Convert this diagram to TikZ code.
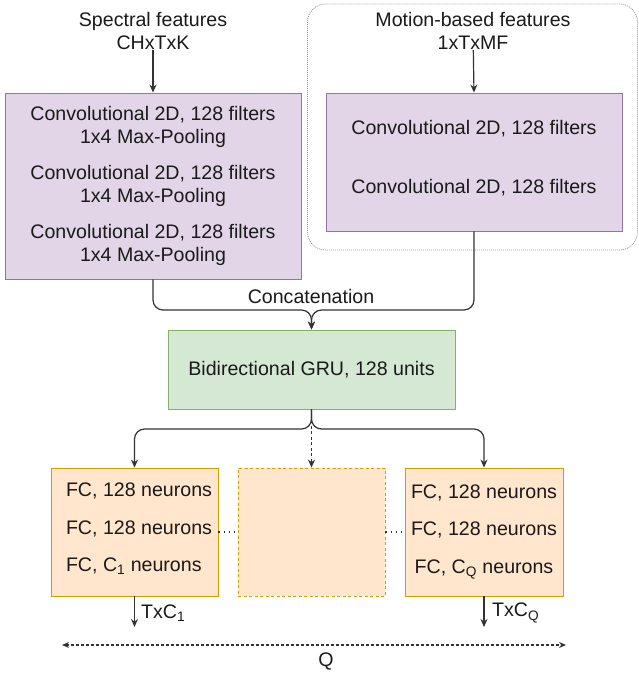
\documentclass[tikz,border=0pt]{standalone}
\usepackage{fontspec}
\setmainfont{Liberation Sans}
\usetikzlibrary{arrows.meta}

\definecolor{convfill}{HTML}{E1D5E7}
\definecolor{convline}{HTML}{9673A6}
\definecolor{grufill}{HTML}{D5E8D4}
\definecolor{gruline}{HTML}{82B366}
\definecolor{fcfill}{HTML}{FFE6CC}
\definecolor{fcline}{HTML}{D79B00}
\definecolor{ink}{HTML}{1A1A1A}
\definecolor{wire}{HTML}{333333}

\tikzset{
  txt/.style={inner sep=0pt, align=center, text=ink},
  convbox/.style={draw=convline, fill=convfill, line width=0.9pt, inner sep=0pt,
    minimum width=296pt, align=center, text=ink},
  grubox/.style={draw=gruline, fill=grufill, line width=0.9pt, inner sep=0pt,
    minimum width=287pt, minimum height=79pt, text=ink},
  fcbox/.style={draw=fcline, fill=fcfill, line width=0.9pt, inner sep=0pt,
    minimum height=128pt, text=ink},
  groupbox/.style={draw=gray!80, dash pattern=on 1pt off 1pt, line width=0.8pt,
    rounded corners=18pt, inner sep=0pt},
  conn/.style={draw=wire, line width=1.2pt, rounded corners=10pt,
    -{Stealth[length=8pt,width=7pt]}},
  dotlink/.style={draw=wire, line width=1.1pt, dash pattern=on 1.2pt off 4pt},
  span/.style={draw=wire, line width=1.1pt, dash pattern=on 2.5pt off 2.5pt,
    {Stealth[length=7pt,width=6pt]}-{Stealth[length=7pt,width=6pt]}}
}

\begin{document}
\begin{tikzpicture}[x=1pt, y=-1pt, font=\fontsize{19.6}{23.5}\selectfont]
\useasboundingbox (0,0) rectangle (639,673);

% motion branch grouping frame
\node[groupbox, minimum width=330pt, minimum height=246pt] (grp) at (472.5,127) {};

% inputs
\node[txt] (spec) at (153,31) {Spectral features\\CHxTxK};
\node[txt] (motion) at (473,31) {Motion-based features\\1xTxMF};

% convolutional stacks
\node[convbox, minimum height=186pt] (convL) at (153,186)
  {Convolutional 2D, 128 filters\\1x4 Max-Pooling\\[12pt]
   Convolutional 2D, 128 filters\\1x4 Max-Pooling\\[12pt]
   Convolutional 2D, 128 filters\\1x4 Max-Pooling};
\node[convbox, minimum height=138pt] (convR) at (474,162) {};
\node[txt] (convRtext) at (474,158)
  {Convolutional 2D, 128 filters\\[35.5pt]Convolutional 2D, 128 filters};

% recurrent layer
\node[grubox] (gru) at (311.5,369.5) {Bidirectional GRU, 128 units};
\node[txt] (concat) at (311,296) {Concatenation};

% output heads
\node[fcbox, minimum width=167pt] (fc1) at (134.5,532) {};
\node[txt, align=left] (fc1text) at (139,529)
  {FC, 128 neurons\\[14pt]FC, 128 neurons\\[14pt]FC, C\textsubscript{1} neurons};
\node[fcbox, minimum width=147pt, dash pattern=on 3pt off 2.5pt] (fcmid) at (311.5,532) {};
\node[fcbox, minimum width=158pt, align=center] (fcQ) at (484,532)
  {FC, 128 neurons\\[14pt]FC, 128 neurons\\[14pt]FC, C\textsubscript{Q} neurons};

% helper points
\coordinate (merge) at (311.5,310);
\coordinate (split) at (311.5,429);
\coordinate (out1) at (134.5,627);
\coordinate (outQ) at (484,627);
\coordinate (qL) at (62,645);
\coordinate (qR) at (566,645);

% connectors
\draw[conn] (spec) -- (convL.north);
\draw[conn] (motion) -- (convR.north);
\draw[conn] (convL.south) |- (merge) -- (gru.north);
\draw[conn] (convR.south) |- (merge) -- (gru.north);
\draw[conn] (gru.south) -- (split) -| (fc1.north);
\draw[conn] (gru.south) -- (split) -| (fcQ.north);
\draw[conn, dash pattern=on 3pt off 2.5pt] (gru.south) -- (fcmid.north);
\draw[dotlink] (fc1.east) -- (fcmid.west);
\draw[dotlink] (fcmid.east) -- (fcQ.west);
\draw[conn] (fc1.south) -- (out1);
\draw[conn] (fcQ.south) -- (outQ);
\draw[span] (qL) -- (qR);

% output labels
\node[txt, anchor=west] (lab1) at (141,613) {TxC\textsubscript{1}};
\node[txt, anchor=west] (labQ) at (492,613) {TxC\textsubscript{Q}};
\node[txt] (labspan) at (326,662) {Q};
\end{tikzpicture}
\end{document}
